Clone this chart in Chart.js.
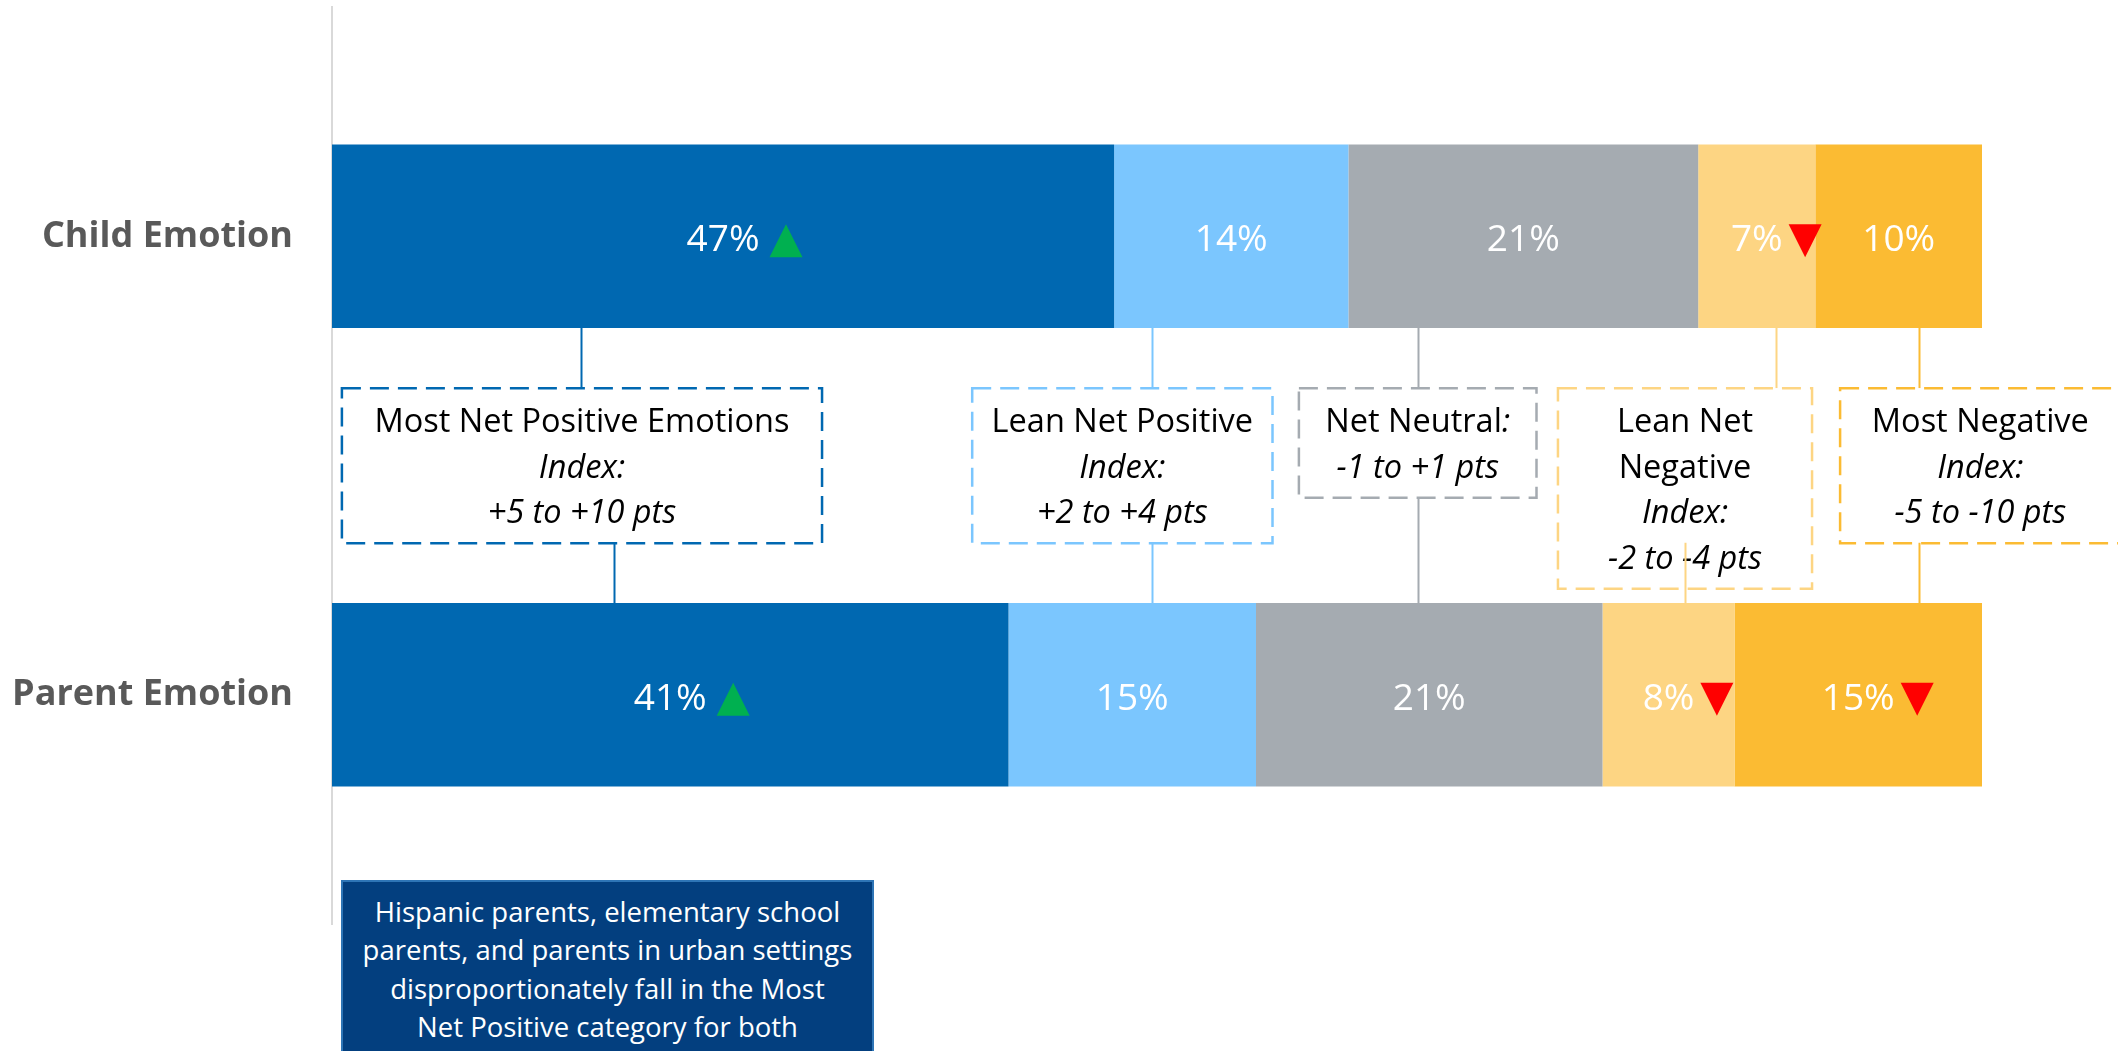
<!DOCTYPE html>
<html>
<head>
<meta charset="utf-8">
<title>Child and Parent Emotion</title>
<script src="https://cdn.jsdelivr.net/npm/chart.js@4.4.0/dist/chart.umd.min.js"></script>
<style>
  html, body { margin: 0; padding: 0; background: #fff; overflow: hidden; }
  #wrap { position: relative; width: 2118px; height: 1051px; }
  #note {
    position: absolute; left: 341px; top: 880px; width: 533px; height: 200px;
    box-sizing: border-box; background: #033F7F; border: 2px solid #2E75B6;
    color: #fff; font-family: "Open Sans", sans-serif; font-size: 27.5px;
    line-height: 38.3px; text-align: center; padding-top: 11px; white-space: nowrap;
  }
</style>
</head>
<body>
<div id="wrap">
  <canvas id="barChart"></canvas>
  <div id="note">Hispanic parents, elementary school<br>parents, and parents in urban settings<br>disproportionately fall in the Most<br>Net Positive category for both</div>
</div>
<script>
// categorias (eje y)
var categorias = ['Child Emotion', 'Parent Emotion'];

// series, % de cada grupo
var nombresSeries = ['Most Net Positive', 'Lean Net Positive', 'Net Neutral', 'Lean Net Negative', 'Most Negative'];
var mostPositive = [47.4, 41];
var leanPositive = [14.2, 15];
var netNeutral   = [21.2, 21];
var leanNegative = [7.1, 8];
var mostNegative = [10.1, 15];

// flechas de diferencia significativa
var flechasMostPositive = ['up', 'up'];
var flechasLeanPositive = ['', ''];
var flechasNetNeutral   = ['', ''];
var flechasLeanNegative = ['down', 'down'];
var flechasMostNegative = ['', 'down'];

// textos de las cajas
var cajaTitulos = [['Most Net Positive Emotions'], ['Lean Net Positive'], ['Net Neutral'], ['Lean Net', 'Negative'], ['Most Negative']];
var cajaIndice  = [true, true, false, true, true];
var cajaRangos  = ['+5 to +10 pts', '+2 to +4 pts', '-1 to +1 pts', '-2 to -4 pts', '-5 to -10 pts'];

var colores = ['#0068B1', '#7BC6FE', '#A5ABB1', '#FDD583', '#FBBB33'];

// posicion de las cajas (en unidades del eje x / fraccion entre las dos barras)
var cajaDesde    = [0.6, 38.8, 58.6, 74.3, 91.4];
var cajaHasta    = [29.7, 57.0, 73.0, 89.7, 108.4];
var lineaArribaX = [15.1, 49.7, 65.8, 87.5, 96.2];
var lineaAbajoX  = [17.1, 49.7, 65.8, 82.0, 96.2];
var cajaTop = 0.3315;
var lineaAbajoDesde = 0.6685;

var valores = [mostPositive, leanPositive, netNeutral, leanNegative, mostNegative];
var flechas = [flechasMostPositive, flechasLeanPositive, flechasNetNeutral, flechasLeanNegative, flechasMostNegative];

var datasets = [];
for (var i = 0; i < nombresSeries.length; i++) {
  datasets.push({
    label: nombresSeries[i],
    data: valores[i],
    flechas: flechas[i],
    backgroundColor: colores[i],
    borderWidth: 0
  });
}

var FUENTE = '"Open Sans", sans-serif';

var cajasPlugin = {
  id: 'cajas',
  afterDatasetsDraw: function(chart) {
    var ctx = chart.ctx;
    var x = chart.scales.x, y = chart.scales.y;
    var y0 = y.getPixelForValue(0), y1 = y.getPixelForValue(1);
    var yf = function(f) { return y0 + f * (y1 - y0); };
    var hijoBase = chart.getDatasetMeta(0).data[0];
    var finBarra1 = hijoBase.y + hijoBase.height / 2;
    var padreBase = chart.getDatasetMeta(0).data[1];
    var inicioBarra2 = padreBase.y - padreBase.height / 2;
    var salto = 45.5;

    ctx.save();
    for (var i = 0; i < cajaTitulos.length; i++) {
      // lineas de texto
      var lineas = [];
      cajaTitulos[i].forEach(function(t, k) {
        var partes = [{ t: t, it: false }];
        if (!cajaIndice[i] && k === cajaTitulos[i].length - 1) partes.push({ t: ':', it: true });
        lineas.push(partes);
      });
      if (cajaIndice[i]) lineas.push([{ t: 'Index:', it: true }]);
      lineas.push([{ t: cajaRangos[i], it: true }]);

      var top = yf(cajaTop);
      var alto = 18.5 + salto * lineas.length;
      var left = x.getPixelForValue(cajaDesde[i]);
      var right = x.getPixelForValue(cajaHasta[i]);
      var cx = (left + right) / 2;

      // conectores
      ctx.setLineDash([]);
      ctx.strokeStyle = colores[i];
      ctx.lineWidth = 2;
      var xa = Math.round(x.getPixelForValue(lineaArribaX[i])) + 0.5;
      ctx.beginPath(); ctx.moveTo(xa, finBarra1); ctx.lineTo(xa, top); ctx.stroke();
      var xb = Math.round(x.getPixelForValue(lineaAbajoX[i])) + 0.5;
      var desde = Math.min(top + alto, yf(lineaAbajoDesde));

      // caja
      ctx.fillStyle = '#fff';
      ctx.fillRect(left, top, right - left, alto);
      ctx.setLineDash([19, 9]);
      ctx.lineWidth = 2.5;
      ctx.strokeRect(left, top, right - left, alto);

      // texto
      ctx.fillStyle = '#000';
      ctx.textBaseline = 'alphabetic';
      ctx.textAlign = 'left';
      lineas.forEach(function(partes, k) {
        var ancho = 0;
        partes.forEach(function(p) {
          ctx.font = (p.it ? 'italic ' : '') + '32.5px ' + FUENTE;
          p.w = ctx.measureText(p.t).width;
          ancho += p.w;
        });
        var px = cx - ancho / 2;
        var py = top + 44 + k * salto;
        partes.forEach(function(p) {
          ctx.font = (p.it ? 'italic ' : '') + '32.5px ' + FUENTE;
          ctx.fillText(p.t, px, py);
          px += p.w;
        });
      });

      // conector inferior (encima del texto, como en el original)
      ctx.setLineDash([]);
      ctx.lineWidth = 2;
      ctx.beginPath(); ctx.moveTo(xb, desde); ctx.lineTo(xb, inicioBarra2); ctx.stroke();
    }
    ctx.restore();

    // etiquetas de datos y flechas
    ctx.save();
    ctx.font = '37px ' + FUENTE;
    ctx.textBaseline = 'alphabetic';
    ctx.textAlign = 'center';
    chart.data.datasets.forEach(function(ds, i) {
      chart.getDatasetMeta(i).data.forEach(function(bar, j) {
        var cx = (bar.x + bar.base) / 2;
        var texto = Math.round(ds.data[j]) + '%';
        var w = ctx.measureText(texto).width;
        ctx.fillStyle = '#fff';
        ctx.fillText(texto, cx, bar.y + 15);
        var f = ds.flechas[j];
        if (f) {
          var gap = f === 'up' ? 10 : 6;
          var ax = cx + w / 2 + gap;
          var t = bar.y - 12, b = bar.y + 21;
          ctx.beginPath();
          if (f === 'up') {
            ctx.fillStyle = '#00B050';
            ctx.moveTo(ax, b); ctx.lineTo(ax + 33, b); ctx.lineTo(ax + 16.5, t);
          } else {
            ctx.fillStyle = '#FF0000';
            ctx.moveTo(ax, t); ctx.lineTo(ax + 33, t); ctx.lineTo(ax + 16.5, b);
          }
          ctx.closePath();
          ctx.fill();
        }
      });
    });
    ctx.restore();
  }
};

var barChartCanvas = document.getElementById('barChart').getContext('2d');

new Chart(barChartCanvas, {
  type: 'bar',
  data: { labels: categorias, datasets: datasets },
  options: {
    indexAxis: 'y',
    responsive: true,
    maintainAspectRatio: false,
    animation: false,
    layout: { padding: { top: 7, right: 136, bottom: 127, left: 0 } },
    categoryPercentage: 0.4,
    barPercentage: 1,
    plugins: { legend: { display: false }, tooltip: { enabled: false } },
    scales: {
      x: { stacked: true, min: 0, max: 100, display: false },
      y: {
        stacked: true,
        grid: { display: false, drawTicks: false },
        border: { display: true, color: '#D9D9D9', width: 2 },
        ticks: { color: '#595959', padding: 39, font: { family: 'Open Sans', size: 36, weight: 'bold' } },
        afterFit: function(scale) {
          scale.width = 332;
          scale.paddingTop = 0;
          scale.paddingBottom = 0;
        }
      }
    }
  },
  plugins: [cajasPlugin]
});
</script>
</body>
</html>
